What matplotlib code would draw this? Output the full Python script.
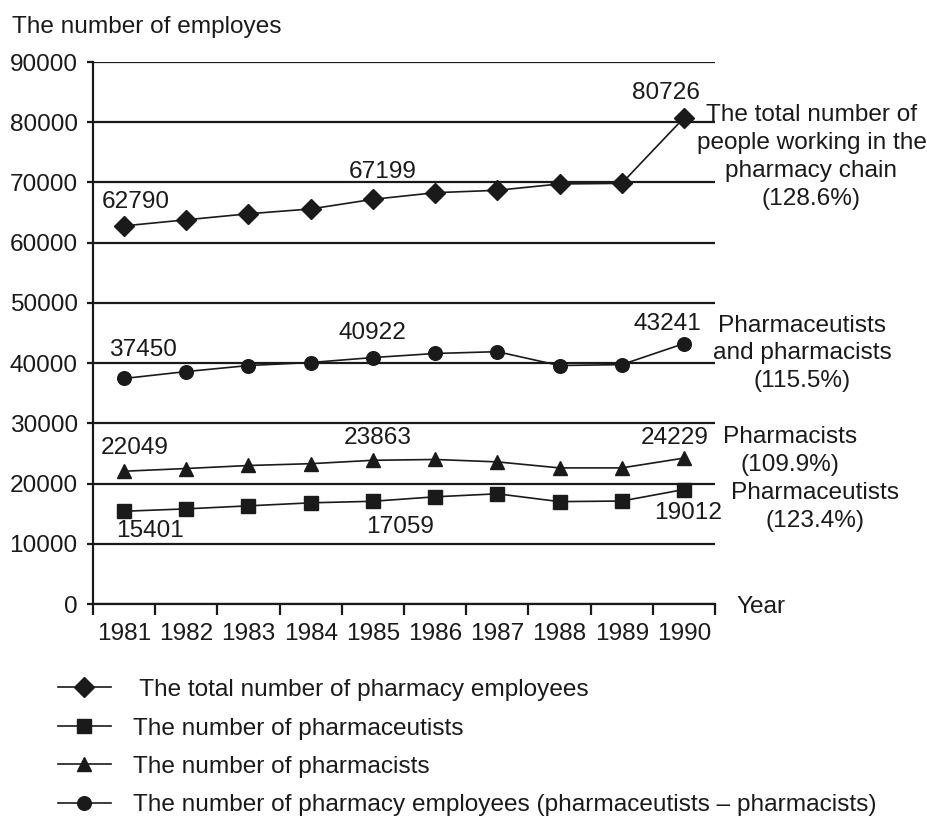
import numpy as np
import matplotlib
matplotlib.use("Agg")
import matplotlib.pyplot as plt
from matplotlib.ticker import FixedLocator

plt.rcParams['font.family'] = ['Liberation Sans', 'DejaVu Sans']

years = ['1981', '1982', '1983', '1984', '1985', '1986', '1987', '1988', '1989', '1990']
total = [62790, 63800, 64800, 65600, 67199, 68300, 68700, 69750, 69850, 80726]
pharmaceutists = [15401, 15800, 16300, 16800, 17059, 17800, 18300, 17000, 17100, 19012]
pharmacists = [22049, 22500, 23000, 23300, 23863, 24000, 23600, 22600, 22600, 24229]
both = [37450, 38600, 39600, 40100, 40922, 41600, 41900, 39600, 39750, 43241]

legend_labels = [' The total number of pharmacy employees',
                 'The number of pharmaceutists',
                 'The number of pharmacists',
                 'The number of pharmacy employees (pharmaceutists \u2013 pharmacists)']

# which points get a value label, with offset in pixels
value_labels = {
    'total': [(0, (12, 24)), (4, (10, 27)), (9, (-18, 25))],
    'both': [(0, (19, 28)), (4, (0, 25)), (9, (-16, 20))],
    'pharmacists': [(0, (11, 23)), (4, (5, 22)), (9, (-9, 20))],
    'pharmaceutists': [(0, (26, -20)), (4, (27, -26)), (9, (4, -23))],
}

fs = 17.6
ink = '#1a1a1a'
fig = plt.figure(figsize=(9.28, 8.16), dpi=100)
ax = fig.add_axes([0.1002, 0.2598, 0.6703, 0.6642])
x = np.arange(len(years))

series = {
    'total': (total, 'D', 10),
    'pharmaceutists': (pharmaceutists, 's', 9.6),
    'pharmacists': (pharmacists, '^', 10.5),
    'both': (both, 'o', 9.8),
}
handles = []
for key in ['total', 'pharmaceutists', 'pharmacists', 'both']:
    vals, mk, ms = series[key]
    h, = ax.plot(x, vals, color=ink, lw=1.2, marker=mk, markersize=ms,
                 markerfacecolor=ink, markeredgecolor=ink, zorder=3)
    handles.append(h)
    for i, off in value_labels[key]:
        ax.annotate(str(vals[i]), (x[i], vals[i]), xytext=off, textcoords='offset pixels',
                    ha='center', va='center', fontsize=fs, color=ink)

ax.set_xlim(-0.5, len(years) - 0.5)
ax.set_ylim(0, 90000)
ax.set_yticks(np.arange(0, 90001, 10000))
ax.set_yticklabels([str(v) for v in range(0, 90001, 10000)])
ax.yaxis.grid(True, color=ink, lw=1.6)
ax.set_axisbelow(True)

ax.set_xticks(x)
ax.set_xticklabels(years)
ax.xaxis.set_minor_locator(FixedLocator(np.arange(-0.5, len(years), 1.0)))
ax.tick_params(axis='x', which='major', length=0, pad=13.5, labelsize=fs, colors=ink)
ax.tick_params(axis='x', which='minor', length=8, width=1.6, direction='out', color=ink)
ax.tick_params(axis='y', length=4, width=1.6, pad=7, labelsize=fs, colors=ink)

for s in ['top', 'right']:
    ax.spines[s].set_visible(False)
for s in ['left', 'bottom']:
    ax.spines[s].set_linewidth(1.6)
    ax.spines[s].set_color(ink)

# side descriptions
side_kw = dict(ha='center', va='center', multialignment='center', fontsize=fs,
               linespacing=1.34, color=ink, clip_on=False)
ax.text(11.05, 74200, 'The total number of\npeople working in the\npharmacy chain\n(128.6%)', **side_kw)
ax.text(10.9, 41600, 'Pharmaceutists\nand pharmacists\n(115.5%)', **side_kw)
ax.text(10.7, 25350, 'Pharmacists\n(109.9%)', **side_kw)
ax.text(11.1, 16050, 'Pharmaceutists\n(123.4%)', **side_kw)

ax.text(1.035, -0.006, 'Year', transform=ax.transAxes, ha='left', va='center',
        fontsize=fs, color=ink)
fig.text(0.013, 0.967, 'The number of employes', ha='left', va='center',
         fontsize=fs, color=ink)

fig.legend(handles, legend_labels, loc='upper left', bbox_to_anchor=(0.062, 0.168),
           frameon=False, fontsize=fs, handlelength=2.2, handletextpad=0.9,
           labelspacing=0.67, borderaxespad=0, borderpad=0, labelcolor=ink)

fig.savefig('out.png', dpi=100)
